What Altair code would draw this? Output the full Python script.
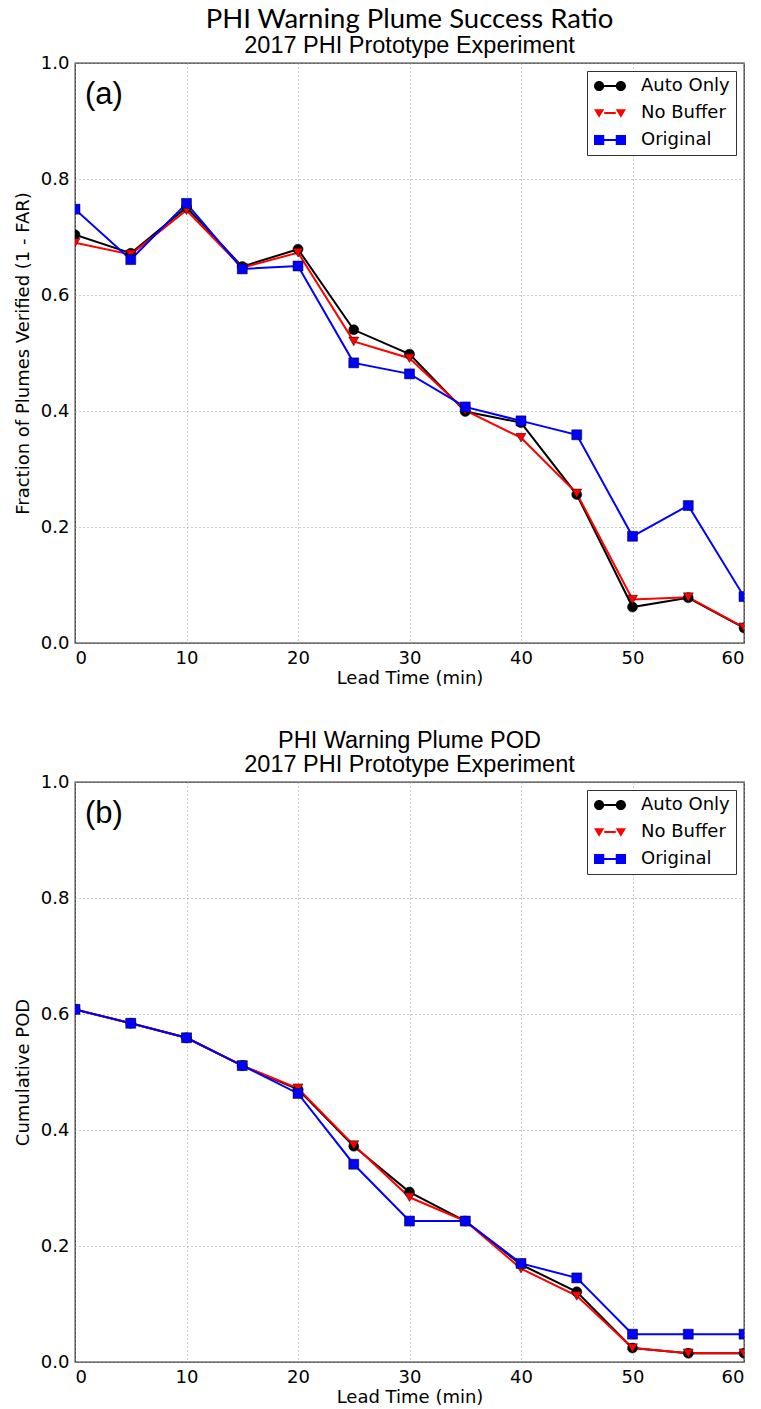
import altair as alt
import pandas as pd

# Lead times (minutes)
lead = [0, 5, 10, 15, 20, 25, 30, 35, 40, 45, 50, 55, 60]

series_names = ["Auto Only", "No Buffer", "Original"]
series_colors = ["#000000", "#ff0000", "#0000ff"]
marker_shapes = ["circle", "triangle-down", "square"]

# (a) success ratio, 1 - FAR
sr_auto = [0.704, 0.672, 0.751, 0.649, 0.679, 0.540, 0.498, 0.399, 0.380, 0.256, 0.062, 0.078, 0.026]
sr_nobuf = [0.690, 0.670, 0.746, 0.647, 0.673, 0.520, 0.491, 0.401, 0.354, 0.258, 0.075, 0.079, 0.027]
sr_orig = [0.748, 0.661, 0.758, 0.645, 0.650, 0.483, 0.464, 0.407, 0.383, 0.359, 0.184, 0.237, 0.080]

# (b) cumulative probability of detection
pod_auto = [0.608, 0.584, 0.559, 0.511, 0.470, 0.372, 0.293, 0.243, 0.168, 0.121, 0.024, 0.015, 0.015]
pod_nobuf = [0.608, 0.584, 0.559, 0.511, 0.472, 0.374, 0.284, 0.243, 0.161, 0.114, 0.024, 0.015, 0.015]
pod_orig = [0.608, 0.584, 0.559, 0.511, 0.463, 0.341, 0.243, 0.243, 0.170, 0.145, 0.048, 0.048, 0.048]

# Legend keys: a short line with a marker at each end.  The paths run from
# -2 to 2 horizontally so a small symbol size gives a wide, short key;
# every sub-path is drawn clockwise so the fill has no holes.
R = 0.64
C = 2 - R


def _line():
    a = C - R
    return f"M-{a},-0.13 H{a} V0.13 H-{a} Z "


def _circle(cx):
    return f"M{cx - R},0 A{R},{R} 0 1,1 {cx + R},0 A{R},{R} 0 1,1 {cx - R},0 Z "


def _tri(cx):
    return f"M{cx - R},{-0.75 * R} L{cx + R},{-0.75 * R} L{cx},{0.95 * R} Z "


def _square(cx):
    return f"M{cx - R},{-R} H{cx + R} V{R} H{cx - R} Z "


legend_paths = [
    _line() + _circle(-C) + _circle(C),
    _line() + _tri(-C) + _tri(C),
    _line() + _square(-C) + _square(C),
]


def long_table(values):
    rows = []
    for name, vals in zip(series_names, values):
        for t, v in zip(lead, vals):
            rows.append({"lead": t, "value": v, "series": name})
    return pd.DataFrame(rows)


def key_legend():
    return alt.Legend(
        title=None, orient="top-right", offset=8,
        labelFont="DejaVu Sans", labelFontSize=18, labelColor="#000000",
        symbolSize=256, symbolStrokeWidth=0, symbolOffset=8, labelOffset=22,
        rowPadding=9, padding=6, strokeColor="#333333", fillColor="#ffffff",
        cornerRadius=0,
    )


def panel(df, ytitle, title, tag):
    x = alt.X("lead:Q", title="Lead Time (min)",
              scale=alt.Scale(domain=[0, 60], nice=False),
              axis=alt.Axis(values=[0, 10, 20, 30, 40, 50, 60]))
    y = alt.Y("value:Q", title=ytitle,
              scale=alt.Scale(domain=[0, 1], nice=False),
              axis=alt.Axis(values=[0, 0.2, 0.4, 0.6, 0.8, 1.0], format=".1f"))
    color_scale = alt.Scale(domain=series_names, range=series_colors)

    base = alt.Chart(df)
    lines = base.mark_line(strokeWidth=2, clip=True).encode(
        x=x, y=y,
        color=alt.Color("series:N", scale=color_scale, legend=None),
    )
    points = base.mark_point(filled=True, size=100, opacity=1, clip=True,
                             stroke="#000000", strokeWidth=0.5).encode(
        x=x, y=y,
        color=alt.Color("series:N", scale=color_scale, legend=None),
        shape=alt.Shape("series:N",
                        scale=alt.Scale(domain=series_names, range=marker_shapes),
                        legend=None),
    )
    key = base.transform_filter("datum.lead < 0").mark_point(
        filled=True, opacity=1).encode(
        x=x, y=y,
        color=alt.Color("series:N", scale=color_scale, legend=key_legend()),
        shape=alt.Shape("series:N",
                        scale=alt.Scale(domain=series_names, range=legend_paths),
                        legend=key_legend()),
    )
    label = alt.Chart(pd.DataFrame({"t": [tag]})).mark_text(
        align="left", baseline="middle", font="Liberation Sans", fontSize=31,
        color="#000000").encode(
        x=alt.datum(0.9), y=alt.datum(0.945), text="t:N")

    return alt.layer(lines, points, key, label).resolve_scale(
        color="independent", shape="independent"
    ).properties(width=669, height=580, title=title)


df_a = long_table([sr_auto, sr_nobuf, sr_orig])
df_b = long_table([pod_auto, pod_nobuf, pod_orig])

title_a = alt.Title(
    "PHI Warning Plume Success Ratio",
    subtitle="2017 PHI Prototype Experiment",
    font="Lato", fontSize=27.5, fontWeight="normal", color="#000000",
    subtitleFont="Liberation Sans", subtitleFontSize=23.5, subtitleColor="#000000",
    anchor="middle", frame="group", offset=-3, subtitlePadding=0,
)
title_b = alt.Title(
    "PHI Warning Plume POD",
    subtitle="2017 PHI Prototype Experiment",
    font="Liberation Sans", fontSize=23.5, fontWeight="normal", color="#000000",
    subtitleFont="Liberation Sans", subtitleFontSize=23.5, subtitleColor="#000000",
    anchor="middle", frame="group", offset=-3, subtitlePadding=0,
)

chart_a = panel(df_a, "Fraction of Plumes Verified (1 - FAR)", title_a, "(a)")
chart_b = panel(df_b, "Cumulative POD", title_b, "(b)")

chart = alt.vconcat(chart_a, chart_b, spacing=40).properties(
    padding={"left": 13, "top": 5, "right": 0, "bottom": 0},
    background="#ffffff",
).configure_view(
    stroke="#333333", strokeWidth=1.3,
).configure_axis(
    labelFont="DejaVu Sans", labelFontSize=18, labelColor="#000000",
    titleFont="DejaVu Sans", titleFontSize=18, titleFontWeight="normal",
    titleColor="#000000", ticks=False, domain=False, labelPadding=6,
    grid=True, gridColor="#999999", gridDash=[1, 3], gridWidth=1,
).configure_axisY(titlePadding=8).configure_axisX(titlePadding=2)

chart.save("out.html", embed_options={"renderer": "svg", "actions": False})
